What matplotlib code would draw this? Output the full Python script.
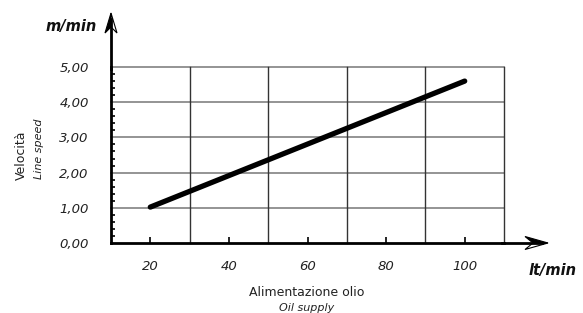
import matplotlib
matplotlib.use("Agg")
import matplotlib.pyplot as plt
import numpy as np
from matplotlib.ticker import FixedLocator
from matplotlib.patches import Polygon
from matplotlib.transforms import IdentityTransform

# Data
flow = [20, 100]            # lt/min
speed = [1.02, 4.60]        # m/min
xtick_vals = [20, 40, 60, 80, 100]
ytick_vals = [0, 1, 2, 3, 4, 5]
ytick_labels = ["0,00", "1,00", "2,00", "3,00", "4,00", "5,00"]
vgrid_vals = [30, 50, 70, 90, 110]
hgrid_vals = [1, 2, 3, 4, 5]

W, H = 583, 313
fig = plt.figure(figsize=(W / 100, H / 100), dpi=100)
x0, x1 = 111, 504
y0, y1 = 243, 67
ax = fig.add_axes([x0 / W, (H - y0) / H, (x1 - x0) / W, (y0 - y1) / H])
ax.set_xlim(10, 110)
ax.set_ylim(0, 5)

for s in ["top", "right"]:
    ax.spines[s].set_visible(False)
for s in ["left", "bottom"]:
    ax.spines[s].set_linewidth(2)
    ax.spines[s].set_color("black")

# grid
for v in hgrid_vals:
    ax.plot([10, 110], [v, v], color="#777777", lw=1.1, zorder=1, clip_on=False)
for v in vgrid_vals:
    ax.plot([v, v], [0, 5], color="#333333", lw=1.0, zorder=1, clip_on=False)

# data line
ax.plot(flow, speed, color="black", lw=3.8, solid_capstyle="round", zorder=3)

# ticks
ax.xaxis.set_major_locator(FixedLocator(xtick_vals))
ax.tick_params(axis="x", direction="in", length=4, width=1.2, pad=12,
               labelsize=9.5)
ax.yaxis.set_major_locator(FixedLocator(ytick_vals))
ax.set_yticklabels(ytick_labels)
ax.yaxis.set_minor_locator(FixedLocator([v for v in np.arange(0.2, 5.0, 0.2)
                                         if abs(v - round(v)) > 1e-6]))
ax.tick_params(axis="y", which="major", length=0, pad=16, labelsize=9.5)
ax.tick_params(axis="y", which="minor", direction="in", length=3, width=1.2)
for lab in ax.get_xticklabels() + ax.get_yticklabels():
    lab.set_fontstyle("italic")
    lab.set_color("#222222")

# axis extensions with stealth-style arrow heads (drawn in pixel space)
fig.canvas.draw()
def px(x, y):
    X, Y = ax.transData.transform((x, y))
    return X, Y

ox, oy = px(10, 0)
# x axis line extension
tipx = ox + (548 - 111)
fig.add_artist(plt.Line2D([px(110, 0)[0] - 2, tipx - 6], [oy, oy], transform=IdentityTransform(),
                          color="black", lw=2))
L, hw, notch = 23, 6.5, 8
fig.add_artist(Polygon([(tipx, oy), (tipx - L, oy + hw), (tipx - L + notch, oy)],
                       closed=True, fc="black", ec="black", lw=0.8, transform=IdentityTransform()))
fig.add_artist(Polygon([(tipx, oy), (tipx - L, oy - hw), (tipx - L + notch, oy)],
                       closed=True, fc="white", ec="black", lw=0.8, transform=IdentityTransform()))
# y axis line extension
tipy = oy + (243 - 13)
fig.add_artist(plt.Line2D([ox, ox], [px(10, 5)[1] - 2, tipy - 6], transform=IdentityTransform(),
                          color="black", lw=2))
L, hw, notch = 20, 6, 6
fig.add_artist(Polygon([(ox, tipy), (ox - hw, tipy - L), (ox, tipy - L + notch)],
                       closed=True, fc="black", ec="black", lw=0.8, transform=IdentityTransform()))
fig.add_artist(Polygon([(ox, tipy), (ox + hw, tipy - L), (ox, tipy - L + notch)],
                       closed=True, fc="white", ec="black", lw=0.8, transform=IdentityTransform()))

# labels
fig.text(97 / W, 1 - 26 / H, "m/min", ha="right", va="center", fontsize=10.5,
         fontweight="bold", fontstyle="italic", color="#111111")
fig.text(577 / W, 1 - 270 / H, "lt/min", ha="right", va="center", fontsize=10.5,
         fontweight="bold", fontstyle="italic", color="#111111")
fig.text(307 / W, 1 - 293 / H, "Alimentazione olio", ha="center", va="center",
         fontsize=9, color="#222222")
fig.text(307 / W, 1 - 308 / H, "Oil supply", ha="center", va="center",
         fontsize=8, fontstyle="italic", color="#222222")
fig.text(21 / W, 1 - 155 / H, "Velocità", ha="center", va="center", rotation=90,
         fontsize=9, color="#222222")
fig.text(39 / W, 1 - 149 / H, "Line speed", ha="center", va="center", rotation=90,
         fontsize=8, fontstyle="italic", color="#222222")

fig.savefig("out.png", dpi=100)
